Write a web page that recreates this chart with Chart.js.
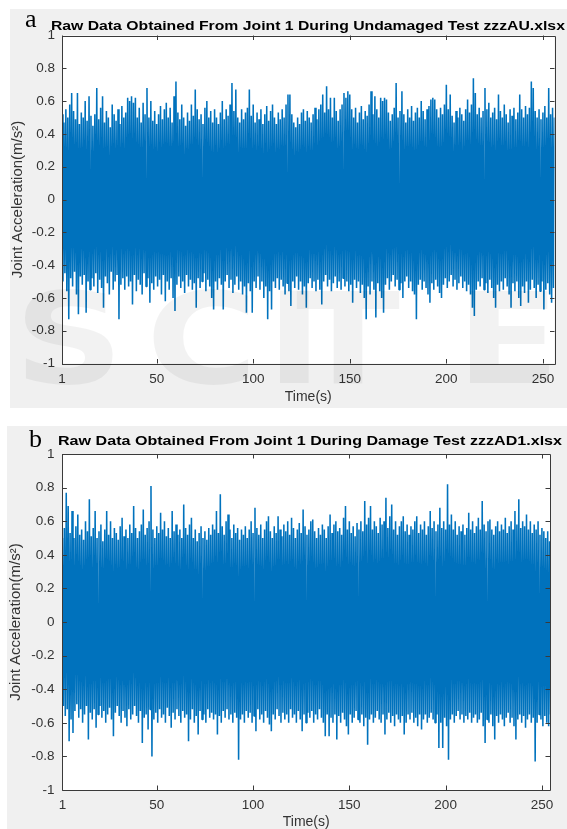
<!DOCTYPE html>
<html><head><meta charset="utf-8">
<script src="https://cdn.jsdelivr.net/npm/chart.js@4.4.1/dist/chart.umd.min.js"></script>
<style>
html,body{margin:0;padding:0;background:#fff;}
body{width:567px;height:829px;position:relative;overflow:hidden;}
.box{position:absolute;background:#f0f0f0;}
#boxA{left:10px;top:9px;width:557px;height:399px;}
#boxB{left:7px;top:426px;width:560px;height:403px;}
canvas{display:block;}
#wm{position:absolute;left:0;top:0;pointer-events:none;}
</style></head><body>
<div class="box" id="boxA"><canvas id="cA" width="557" height="399"></canvas></div>
<div class="box" id="boxB"><canvas id="cB" width="560" height="403"></canvas></div>
<canvas id="wm" width="567" height="829"></canvas>
<script>
// ---- tick labels ----
const xTicks = [1, 50, 100, 150, 200, 250];
const yTicks = [-1, -0.8, -0.6, -0.4, -0.2, 0, 0.2, 0.4, 0.6, 0.8, 1];

// ---- panel a: upper / lower envelope per second (t = 1..256) ----
const upperA = [
0.52,0.47,0.55,0.50,0.58,0.65,0.54,0.49,0.65,0.46,0.53,0.50,0.60,0.48,0.63,0.51,
0.45,0.52,0.68,0.49,0.56,0.63,0.47,0.54,0.50,0.44,0.58,0.52,0.48,0.55,0.46,0.57,
0.50,0.53,0.62,0.60,0.63,0.59,0.62,0.50,0.56,0.47,0.59,0.52,0.68,0.50,0.60,0.48,
0.54,0.46,0.52,0.57,0.49,0.55,0.59,0.50,0.56,0.47,0.63,0.72,0.53,0.49,0.58,0.50,
0.45,0.53,0.48,0.58,0.51,0.67,0.55,0.49,0.52,0.46,0.56,0.60,0.50,0.54,0.47,0.55,
0.50,0.46,0.53,0.60,0.49,0.55,0.51,0.58,0.71,0.54,0.67,0.50,0.47,0.55,0.49,0.53,
0.56,0.67,0.51,0.58,0.47,0.53,0.49,0.55,0.46,0.52,0.57,0.48,0.54,0.58,0.50,0.46,
0.53,0.49,0.55,0.50,0.58,0.64,0.64,0.52,0.47,0.44,0.50,0.46,0.53,0.55,0.48,0.54,
0.50,0.47,0.52,0.56,0.49,0.55,0.58,0.64,0.53,0.69,0.55,0.62,0.50,0.62,0.54,0.48,
0.55,0.58,0.65,0.62,0.66,0.64,0.55,0.50,0.56,0.47,0.53,0.57,0.49,0.54,0.51,0.58,
0.66,0.52,0.63,0.55,0.50,0.62,0.60,0.62,0.61,0.53,0.48,0.52,0.56,0.71,0.50,0.54,
0.66,0.52,0.47,0.55,0.50,0.57,0.48,0.53,0.56,0.50,0.60,0.54,0.49,0.55,0.57,0.61,
0.62,0.61,0.55,0.50,0.56,0.52,0.58,0.70,0.55,0.64,0.51,0.47,0.54,0.50,0.56,0.52,
0.48,0.55,0.61,0.53,0.58,0.74,0.65,0.52,0.56,0.50,0.54,0.68,0.55,0.59,0.50,0.53,
0.56,0.49,0.64,0.54,0.50,0.58,0.52,0.47,0.55,0.51,0.56,0.49,0.53,0.64,0.55,0.50,
0.57,0.52,0.56,0.72,0.68,0.54,0.50,0.55,0.49,0.53,0.57,0.50,0.68,0.52,0.56,0.50];
const lowerA = [
-0.50,-0.45,-0.56,-0.73,-0.48,-0.53,-0.44,-0.58,-0.70,-0.47,-0.52,-0.46,-0.69,-0.50,-0.55,-0.48,
-0.53,-0.45,-0.57,-0.49,-0.54,-0.66,-0.47,-0.51,-0.58,-0.44,-0.55,-0.50,-0.46,-0.73,-0.52,-0.48,
-0.55,-0.47,-0.53,-0.50,-0.64,-0.46,-0.56,-0.49,-0.52,-0.58,-0.45,-0.53,-0.48,-0.63,-0.51,-0.55,
-0.47,-0.53,-0.49,-0.58,-0.46,-0.62,-0.50,-0.55,-0.48,-0.60,-0.68,-0.52,-0.47,-0.54,-0.50,-0.57,
-0.46,-0.53,-0.49,-0.55,-0.51,-0.66,-0.48,-0.54,-0.50,-0.45,-0.56,-0.49,-0.53,-0.60,-0.67,-0.50,
-0.55,-0.48,-0.52,-0.67,-0.50,-0.46,-0.54,-0.49,-0.57,-0.52,-0.47,-0.55,-0.50,-0.58,-0.53,-0.69,
-0.51,-0.56,-0.69,-0.50,-0.54,-0.47,-0.55,-0.50,-0.60,-0.53,-0.73,-0.56,-0.67,-0.50,-0.54,-0.48,
-0.55,-0.49,-0.53,-0.58,-0.51,-0.56,-0.65,-0.50,-0.54,-0.47,-0.55,-0.50,-0.58,-0.53,-0.66,-0.51,
-0.48,-0.54,-0.50,-0.56,-0.49,-0.55,-0.64,-0.50,-0.46,-0.53,-0.49,-0.56,-0.51,-0.47,-0.54,-0.50,
-0.55,-0.48,-0.53,-0.50,-0.56,-0.52,-0.63,-0.49,-0.54,-0.50,-0.57,-0.52,-0.60,-0.73,-0.53,-0.58,
-0.50,-0.55,-0.72,-0.51,-0.56,-0.60,-0.69,-0.52,-0.48,-0.55,-0.50,-0.46,-0.53,-0.49,-0.55,-0.51,
-0.60,-0.50,-0.47,-0.54,-0.50,-0.56,-0.58,-0.73,-0.52,-0.49,-0.55,-0.50,-0.54,-0.58,-0.63,-0.51,
-0.55,-0.49,-0.53,-0.57,-0.60,-0.52,-0.48,-0.54,-0.50,-0.46,-0.53,-0.49,-0.55,-0.51,-0.47,-0.54,
-0.50,-0.56,-0.52,-0.58,-0.66,-0.71,-0.55,-0.50,-0.53,-0.48,-0.55,-0.51,-0.57,-0.49,-0.54,-0.60,
-0.66,-0.52,-0.56,-0.50,-0.55,-0.48,-0.53,-0.58,-0.66,-0.51,-0.56,-0.50,-0.60,-0.65,-0.53,-0.57,
-0.50,-0.63,-0.55,-0.49,-0.54,-0.60,-0.52,-0.56,-0.50,-0.67,-0.55,-0.51,-0.58,-0.63,-0.54,-0.60];

// ---- panel b ----
const upperB = [
0.50,0.56,0.77,0.69,0.53,0.66,0.50,0.57,0.64,0.52,0.55,0.49,0.60,0.54,0.73,0.51,
0.56,0.66,0.50,0.54,0.58,0.48,0.55,0.66,0.52,0.60,0.50,0.56,0.53,0.49,0.57,0.62,
0.51,0.55,0.50,0.58,0.53,0.69,0.56,0.50,0.54,0.58,0.67,0.52,0.56,0.60,0.81,0.55,
0.50,0.57,0.53,0.65,0.55,0.60,0.51,0.56,0.50,0.66,0.54,0.58,0.52,0.55,0.50,0.70,
0.56,0.52,0.58,0.62,0.50,0.55,0.48,0.53,0.57,0.50,0.54,0.49,0.56,0.52,0.58,0.55,
0.66,0.53,0.76,0.57,0.52,0.60,0.64,0.55,0.50,0.58,0.53,0.56,0.49,0.55,0.52,0.57,
0.50,0.55,0.60,0.53,0.68,0.56,0.52,0.58,0.50,0.55,0.60,0.63,0.54,0.50,0.57,0.53,
0.63,0.55,0.51,0.58,0.54,0.60,0.52,0.62,0.56,0.50,0.55,0.59,0.53,0.67,0.57,0.52,
0.55,0.60,0.61,0.54,0.50,0.56,0.52,0.58,0.55,0.50,0.57,0.64,0.53,0.58,0.60,0.54,
0.56,0.52,0.62,0.69,0.55,0.60,0.53,0.57,0.51,0.59,0.55,0.60,0.54,0.72,0.58,0.62,
0.69,0.55,0.60,0.57,0.53,0.62,0.58,0.60,0.74,0.56,0.63,0.70,0.55,0.60,0.52,0.57,
0.60,0.63,0.54,0.58,0.52,0.57,0.55,0.60,0.63,0.53,0.58,0.55,0.60,0.52,0.57,0.66,
0.56,0.60,0.54,0.58,0.68,0.56,0.60,0.55,0.82,0.58,0.64,0.55,0.60,0.52,0.57,0.54,
0.58,0.52,0.56,0.65,0.55,0.60,0.53,0.57,0.62,0.55,0.72,0.58,0.54,0.60,0.61,0.55,
0.52,0.57,0.60,0.54,0.58,0.55,0.62,0.53,0.57,0.60,0.55,0.66,0.58,0.73,0.56,0.60,
0.57,0.64,0.55,0.60,0.53,0.58,0.55,0.60,0.52,0.56,0.54,0.50,0.54,0.48,0.52,0.45];
const lowerB = [
-0.50,-0.56,-0.52,-0.71,-0.58,-0.66,-0.53,-0.49,-0.57,-0.52,-0.60,-0.55,-0.50,-0.70,-0.54,-0.58,
-0.52,-0.63,-0.55,-0.50,-0.57,-0.53,-0.60,-0.55,-0.51,-0.58,-0.68,-0.54,-0.50,-0.56,-0.60,-0.53,
-0.57,-0.62,-0.52,-0.58,-0.55,-0.50,-0.56,-0.60,-0.53,-0.72,-0.57,-0.55,-0.64,-0.52,-0.80,-0.58,
-0.54,-0.60,-0.52,-0.57,-0.55,-0.60,-0.51,-0.56,-0.63,-0.54,-0.58,-0.52,-0.56,-0.60,-0.53,-0.57,
-0.55,-0.71,-0.58,-0.52,-0.60,-0.56,-0.67,-0.53,-0.58,-0.55,-0.60,-0.52,-0.57,-0.54,-0.58,-0.55,
-0.67,-0.56,-0.60,-0.53,-0.57,-0.52,-0.58,-0.55,-0.60,-0.54,-0.57,-0.82,-0.58,-0.55,-0.60,-0.53,
-0.57,-0.54,-0.60,-0.56,-0.65,-0.52,-0.58,-0.55,-0.60,-0.53,-0.57,-0.61,-0.65,-0.55,-0.58,-0.52,
-0.56,-0.60,-0.54,-0.58,-0.55,-0.60,-0.52,-0.57,-0.55,-0.60,-0.53,-0.58,-0.65,-0.55,-0.60,-0.54,
-0.57,-0.53,-0.60,-0.55,-0.58,-0.52,-0.57,-0.60,-0.68,-0.55,-0.68,-0.57,-0.60,-0.55,-0.70,-0.56,
-0.60,-0.54,-0.58,-0.62,-0.67,-0.55,-0.60,-0.57,-0.53,-0.58,-0.60,-0.55,-0.62,-0.57,-0.73,-0.58,
-0.55,-0.60,-0.57,-0.53,-0.58,-0.60,-0.55,-0.67,-0.58,-0.54,-0.60,-0.56,-0.62,-0.55,-0.58,-0.60,
-0.56,-0.67,-0.60,-0.55,-0.58,-0.54,-0.60,-0.57,-0.62,-0.55,-0.64,-0.58,-0.55,-0.60,-0.57,-0.54,
-0.58,-0.60,-0.55,-0.75,-0.60,-0.75,-0.57,-0.62,-0.82,-0.58,-0.55,-0.60,-0.56,-0.53,-0.58,-0.55,
-0.60,-0.56,-0.58,-0.54,-0.60,-0.57,-0.55,-0.60,-0.58,-0.54,-0.62,-0.72,-0.58,-0.60,-0.55,-0.62,
-0.70,-0.56,-0.60,-0.55,-0.58,-0.62,-0.57,-0.54,-0.60,-0.57,-0.62,-0.70,-0.58,-0.55,-0.60,-0.56,
-0.63,-0.58,-0.55,-0.60,-0.57,-0.83,-0.60,-0.55,-0.58,-0.62,-0.56,-0.60,-0.62,-0.55,-0.58,-0.52];

const titleA = 'Raw Data Obtained From Joint 1 During Undamaged Test zzzAU.xlsx';
const titleB = 'Raw Data Obtained From Joint 1 During Damage Test zzzAD1.xlsx';
const yLabel = 'Joint Acceleration(m/s\u00B2)';
const xLabel = 'Time(s)';

const SANS = '"Liberation Sans", Arial, Helvetica, sans-serif';
const BLUE = '#0072BD';
const AXC = '#3a3a3a';
const TXT = '#333333';

function zigzag(up, low) {
  const pts = [];
  const n = Math.min(up.length, low.length);
  for (let i = 0; i < n; i++) {
    const t = i + 1;               // time in seconds
    pts.push({x: t, y: up[i]});
    pts.push({x: t + 0.5, y: low[i]});
  }
  return pts;
}

function makeChart(id, up, low, p) {
  const frame = {
    id: 'frame',
    beforeDatasetsDraw(chart) {
      const {ctx, chartArea: a} = chart;
      ctx.save(); ctx.fillStyle = '#ffffff';
      ctx.fillRect(a.left, a.top, a.right - a.left, a.bottom - a.top);
      ctx.restore();
    },
    afterDatasetsDraw(chart) {
      const {ctx, chartArea: a, scales: {x, y}} = chart;
      ctx.save();
      ctx.strokeStyle = AXC; ctx.lineWidth = 1;
      ctx.beginPath();
      ctx.rect(Math.round(a.left) + 0.5, Math.round(a.top) + 0.5,
               Math.round(a.right) - Math.round(a.left), Math.round(a.bottom) - Math.round(a.top));
      const L = 4.5;
      xTicks.forEach(v => {
        const px = Math.round(x.getPixelForValue(v)) + 0.5;
        ctx.moveTo(px, a.bottom); ctx.lineTo(px, a.bottom - L);
        ctx.moveTo(px, a.top); ctx.lineTo(px, a.top + L);
      });
      yTicks.forEach(v => {
        const py = Math.round(y.getPixelForValue(v)) + 0.5;
        ctx.moveTo(a.left, py); ctx.lineTo(a.left + L, py);
        ctx.moveTo(a.right, py); ctx.lineTo(a.right - L, py);
      });
      ctx.stroke();
      // title
      ctx.fillStyle = '#000';
      ctx.font = 'bold 13px ' + SANS;
      const w = ctx.measureText(p.title).width;
      ctx.translate(p.titleX, p.titleY);
      ctx.scale(p.titleW / w, 1);
      ctx.textAlign = 'center'; ctx.textBaseline = 'alphabetic';
      ctx.fillText(p.title, 0, 0);
      ctx.restore();
      ctx.save();
      ctx.fillStyle = '#000';
      ctx.font = '26px "Liberation Serif", "Times New Roman", serif';
      ctx.textAlign = 'left';
      ctx.fillText(p.letter, p.letterX, p.letterY);
      ctx.restore();
    }
  };
  return new Chart(document.getElementById(id), {
    type: 'line',
    data: { datasets: [{
      data: zigzag(up, low),
      borderColor: BLUE, borderWidth: 1.55, pointRadius: 0,
      tension: 0, borderJoinStyle: 'bevel', fill: false
    }]},
    options: {
      responsive: false, animation: false, devicePixelRatio: 1,
      parsing: false, normalized: true,
      layout: { padding: { left: 0, top: p.padTop, right: p.padRight, bottom: 0 } },
      plugins: { legend: { display: false }, tooltip: { enabled: false }, title: { display: false } },
      events: [],
      scales: {
        x: {
          type: 'linear', min: 1, max: p.xMax,
          afterBuildTicks: s => { s.ticks = xTicks.map(v => ({ value: v })); },
          afterFit: s => { s.height = p.xH; },
          grid: { display: false, drawTicks: false }, border: { display: false },
          ticks: { autoSkip: false, maxRotation: 0, padding: p.xPad, color: TXT,
                   font: { family: SANS, size: 13.5 }, callback: v => String(v) },
          title: { display: true, text: xLabel, color: TXT,
                   font: { family: SANS, size: 14, lineHeight: 1 }, padding: { top: 0, bottom: p.xTitlePad } }
        },
        y: {
          type: 'linear', min: -1, max: 1,
          afterBuildTicks: s => { s.ticks = yTicks.map(v => ({ value: v })); },
          afterFit: s => { s.width = p.yW; },
          grid: { display: false, drawTicks: false }, border: { display: false },
          ticks: { autoSkip: false, padding: p.yPad, color: TXT,
                   font: { family: SANS, size: 13.5 }, callback: v => String(v) },
          title: { display: true, text: yLabel, color: TXT,
                   font: { family: SANS, size: 15, lineHeight: 1 }, padding: { top: p.yTitlePad, bottom: 0 } }
        }
      }
    },
    plugins: [frame]
  });
}

makeChart('cA', upperA, lowerA, {
  xMax: 256, padTop: 26.5, padRight: 12.5, xH: 44.5, yW: 52, xPad: 8, yPad: 7,
  xTitlePad: 4, yTitlePad: 0.5,
  title: titleA, titleX: 307.9 - 10, titleY: 29.5 - 9, titleW: 514,
  letter: 'a', letterX: 25 - 10, letterY: 26.5 - 9
});
makeChart('cB', upperB, lowerB, {
  xMax: 254.2, padTop: 28, padRight: 17, xH: 39, yW: 55.4, xPad: 7, yPad: 8,
  xTitlePad: 0, yTitlePad: 1.5,
  title: titleB, titleX: 310 - 7, titleY: 445 - 426, titleW: 504,
  letter: 'b', letterX: 29 - 7, letterY: 447 - 426
});

// faint publisher watermark overlay
(function () {
  const c = document.getElementById('wm').getContext('2d');
  c.fillStyle = 'rgba(0,0,0,0.05)';
  c.font = 'bold 127px "DejaVu Sans", sans-serif';
  c.textBaseline = 'alphabetic';
  [['S', 14], ['C', 146], ['I', 266], ['T', 296], ['E', 456]].forEach(([ch, x]) => {
    c.save(); c.translate(x, 383); c.scale(1.2, 1); c.fillText(ch, 0, 0); c.restore();
  });
})();
</script>
</body></html>
